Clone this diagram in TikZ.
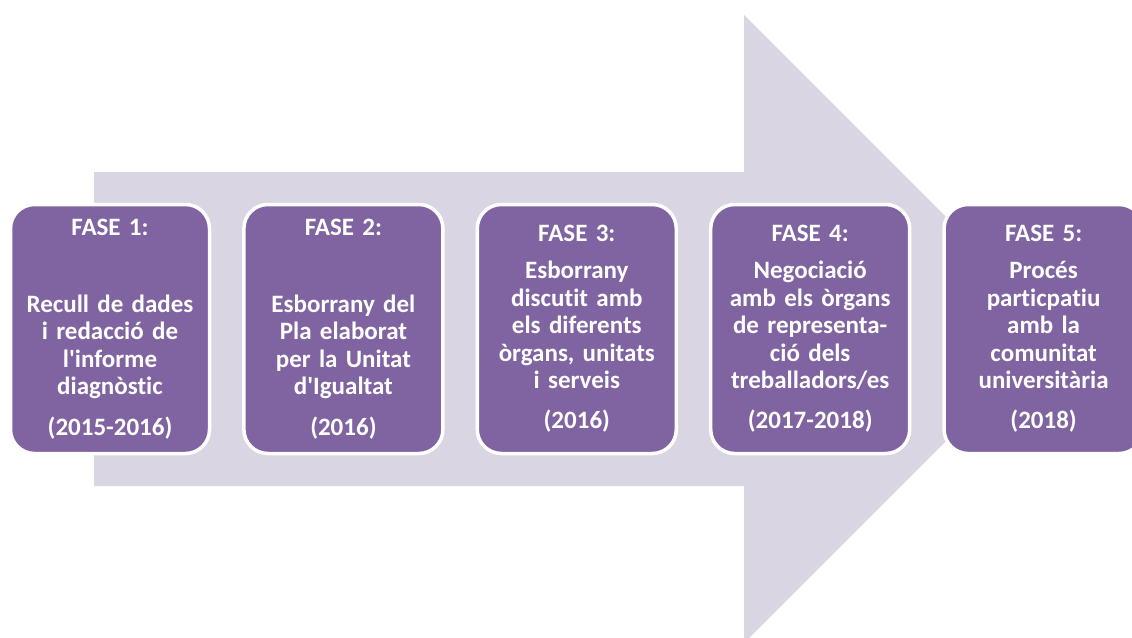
\documentclass[tikz,border=0pt]{standalone}
\usepackage{fontspec}
\newfontfamily\phasefont{Carlito}[Ligatures=NoCommon]
\definecolor{phasepurple}{RGB}{128,100,162}
\definecolor{arrowlilac}{RGB}{217,213,227}

\begin{document}
\begin{tikzpicture}[x=1pt, y=-1pt,
  block/.style={rectangle, draw=white, line width=3.5pt, fill=phasepurple, rounded corners=24pt, minimum width=199pt, minimum height=249pt, text width=192pt, inner sep=0pt, align=center, text=white, font=\phasefont\fontsize{25}{27.5}\selectfont\bfseries},
  node distance=233.4pt]
    \useasboundingbox (0,0) rectangle (1132,637);

    % big arrow behind the phases
    \fill[arrowlilac] (94,172) -- (744,172) -- (744,15) -- (1058,329) -- (744,643) -- (744,486) -- (94,486) -- cycle;

    \node[block] at (110,329) (b1) {FASE 1:\\[49pt]Recull de dades\\i redacció de\\l'informe\\diagnòstic\\[13pt](2015-2016)};
    \node[block, right of=b1] (b2) {FASE 2:\\[49pt]Esborrany del\\Pla elaborat\\per la Unitat\\d'Igualtat\\[13pt](2016)};
    \node[block, right of=b2] (b3) {FASE 3:\\[9.5pt]Esborrany\\discutit amb\\els diferents\\òrgans, unitats\\i serveis\\[12.5pt](2016)};
    \node[block, right of=b3] (b4) {FASE 4:\\[9.5pt]Negociació\\amb els òrgans\\de representa-\\ció dels\\treballadors/es\\[12.5pt](2017-2018)};
    \node[block, right of=b4] (b5) {FASE 5:\\[9.5pt]Procés\\particpatiu\\amb la\\comunitat\\universitària\\[12.5pt](2018)};

\end{tikzpicture}
\end{document}
